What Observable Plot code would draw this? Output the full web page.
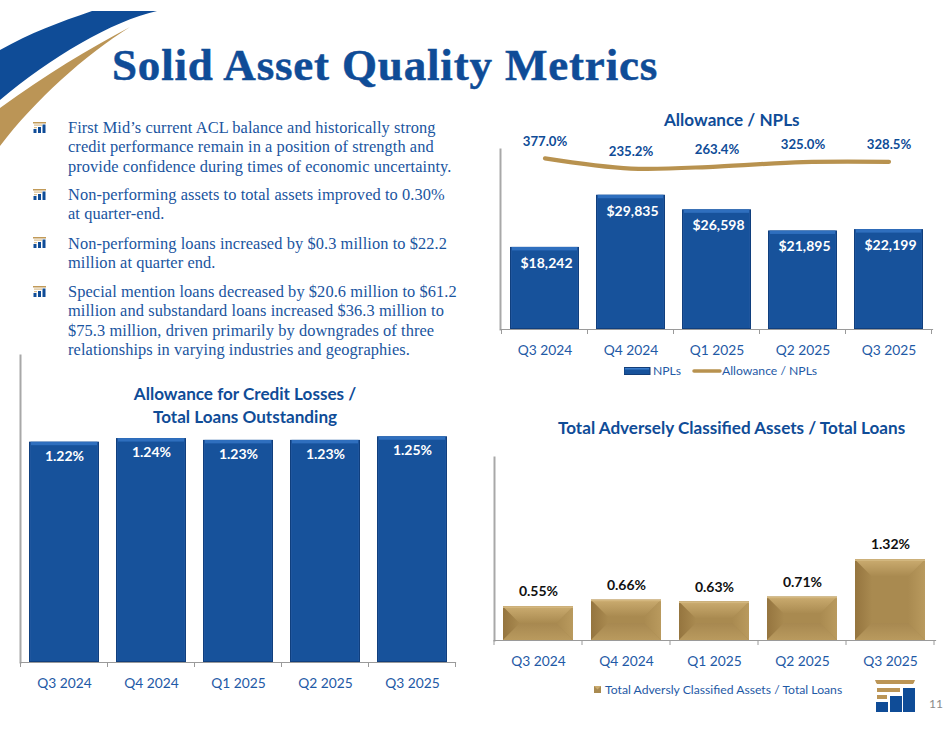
<!DOCTYPE html>
<html>
<head>
<meta charset="utf-8">
<script src="https://cdn.jsdelivr.net/npm/d3@7"></script>
<script src="https://cdn.jsdelivr.net/npm/@observablehq/plot@0.6"></script>
<style>
html,body{margin:0;padding:0;background:#fff;}
#page{position:relative;width:950px;height:734px;overflow:hidden;background:#fff;font-family:Lato,sans-serif;color:#17519c;}
#page>*{position:absolute;}
.ttl{font-weight:700;font-size:17.1px;text-align:center;color:#0f4c97;white-space:nowrap;line-height:23px;}
#title{left:112px;top:39px;font:700 45px "Liberation Serif",serif;color:#0f4c97;white-space:nowrap;letter-spacing:.83px;-webkit-text-stroke:.5px #0f4c97;}
.body{left:68px;font:16.4px/19.3px "Liberation Serif",serif;color:#1a55a0;white-space:nowrap;letter-spacing:.08px;}
.lg{font-size:12.2px;color:#1f5aa6;white-space:nowrap;line-height:14px;}
svg text{font-family:Lato,sans-serif;}
g[aria-label="bar-base"]{filter:drop-shadow(0 0 1.2px rgba(0,0,0,.35));}
</style>
</head>
<body>
<div id="page">
  <svg width="0" height="0" style="left:0;top:0">
    <defs>
      <linearGradient id="goldTop" x1="0" y1="0" x2="0" y2="1"><stop offset="0" stop-color="#cbac70"/><stop offset="1" stop-color="#a98a50"/></linearGradient>
      <linearGradient id="goldBot" x1="0" y1="0" x2="0" y2="1"><stop offset="0" stop-color="#a78850"/><stop offset="1" stop-color="#b99a5e"/></linearGradient>
      <linearGradient id="goldLeft" x1="0" y1="0" x2="1" y2="0"><stop offset="0" stop-color="#95753f"/><stop offset="1" stop-color="#a98a50"/></linearGradient>
      <linearGradient id="goldRight" x1="0" y1="0" x2="1" y2="0"><stop offset="0" stop-color="#a98a50"/><stop offset="1" stop-color="#b99a5e"/></linearGradient>
      <symbol id="bullet" viewBox="0 0 13 11">
        <rect x="0" y="0" width="13" height="1.5" fill="#c19a58"/>
        <rect x="1" y="2.5" width="8" height="1.2" fill="#d9bd8c"/>
        <rect x="1" y="5" width="3" height="1.2" fill="#d9bd8c"/>
        <rect x="0.5" y="7" width="3" height="4" fill="#0f4c97"/>
        <rect x="5" y="5" width="3" height="6" fill="#0f4c97"/>
        <rect x="9.5" y="2.5" width="3" height="8.5" fill="#0f4c97"/>
      </symbol>
    </defs>
  </svg>

  <svg width="170" height="160" style="left:0;top:0">
    <path d="M92 11 L157 11 C112 21 50 58 0 100 L0 50 C30 33 60 22 92 11Z" fill="#0f4c97"/>
    <path d="M130 27 C85 55 35 100 0 146 L0 108 C45 75 90 48 130 27Z" fill="#bb9556"/>
  </svg>

  <div id="title">Solid Asset Quality Metrics</div>

  <svg width="13" height="11" style="left:33px;top:122px"><use href="#bullet"/></svg>
  <div class="body" style="top:118px">First Mid’s current ACL balance and historically strong<br>credit performance remain in a position of strength and<br>provide confidence during times of economic uncertainty.</div>
  <svg width="13" height="11" style="left:33px;top:189px"><use href="#bullet"/></svg>
  <div class="body" style="top:185px">Non-performing assets to total assets improved to 0.30%<br>at quarter-end.</div>
  <svg width="13" height="11" style="left:33px;top:237px"><use href="#bullet"/></svg>
  <div class="body" style="top:234px">Non-performing loans increased by $0.3 million to $22.2<br>million at quarter end.</div>
  <svg width="13" height="11" style="left:33px;top:286px"><use href="#bullet"/></svg>
  <div class="body" style="top:282px">Special mention loans decreased by $20.6 million to $61.2<br>million and substandard loans increased $36.3 million to<br>$75.3 million, driven primarily by downgrades of three<br>relationships in varying industries and geographies.</div>

  <div class="ttl" style="left:664px;top:108px">Allowance / NPLs</div>
  <div class="ttl" style="left:558px;top:416px">Total Adversely Classified Assets / Total Loans</div>
  <div class="ttl" style="left:95px;width:300px;top:382px">Allowance for Credit Losses /<br>Total Loans Outstanding</div>

  <div id="chartA" style="left:480px;top:129px"></div>
  <div id="chartB" style="left:474px;top:440px"></div>
  <div id="chartC" style="left:0;top:340px"></div>

  <svg width="27" height="8" style="left:624px;top:367px"><rect width="26" height="7" y=".5" fill="#17529b" stroke="#123d78"/><rect x="1" y="1" width="24" height="1.5" fill="#3b7ccb"/></svg>
  <div class="lg" style="left:653px;top:364px">NPLs</div>
  <svg width="30" height="6" style="left:692px;top:368px"><line x1="2" x2="28" y1="3" y2="3" stroke="#b8924f" stroke-width="3.5" stroke-linecap="round"/></svg>
  <div class="lg" style="left:722px;top:364px">Allowance / NPLs</div>

  <svg width="8" height="8" style="left:594px;top:686px"><rect width="7" height="7" fill="#a98a50"/><path d="M0 0L7 0L3.500 3.500Z" fill="#cbac70"/></svg>
  <div class="lg" style="left:605px;top:683px">Total Adversly Classified Assets / Total Loans</div>

  <svg width="42" height="34" style="left:874px;top:679px">
    <path d="M1 1H41L40 3.500L39 5H3L2 3.500Z" fill="#bb9556"/>
    <rect x="3" y="9" width="23" height="4" fill="#bb9556"/>
    <rect x="3" y="16" width="10" height="4" fill="#bb9556"/>
    <rect x="2" y="23" width="12" height="10" fill="#0f4c97"/>
    <rect x="16" y="17" width="12" height="16" fill="#0f4c97"/>
    <rect x="29" y="9" width="12" height="24" fill="#0f4c97"/>
  </svg>
  <div style="left:929px;top:696px;font-size:12px;color:#8a8a8a;">11</div>
</div>

<script>
const quarters = ["Q3 2024", "Q4 2024", "Q1 2025", "Q2 2025", "Q3 2025"];
const npls = [18242, 29835, 26598, 21895, 22199];
const allowancePct = [377.0, 235.2, 263.4, 325.0, 328.5];
const aclPct = [1.22, 1.24, 1.23, 1.23, 1.25];
const classifiedPct = [0.55, 0.66, 0.63, 0.71, 1.32];

const AXIS = "#9a9a9a";
const TICKTEXT = "#1f5aa6";

const rows = quarters.map((q, i) => ({q, npl: npls[i], allow: allowancePct[i], acl: aclPct[i], cls: classifiedPct[i]}));
// NPL bars read on a 0–40,000 axis, the ratio line on a hidden –2,000%–500% axis
const allowToNpl = d3.scaleLinear([-2000, 500], [0, 40000]);

// Ticks on the category axis fall between the bands
function bandTicks(index, {x}, values, {height, marginBottom}) {
  const g = d3.create("svg:g");
  const step = x.step ? x.step() : x.bandwidth() / 0.8;
  const edges = quarters.map(q => x(q) - (step - x.bandwidth()) / 2);
  edges.push(edges[4] + step);
  const y0 = height - marginBottom;
  for (const e of edges) {
    g.append("line").attr("x1", e).attr("x2", e).attr("y1", y0).attr("y2", y0 + 5)
      .attr("stroke", AXIS).attr("stroke-width", 1);
  }
  return g.node();
}

function frameMarks() {
  return [
    Plot.frame({anchor: "left", stroke: "#a8a8a8", strokeWidth: 2}),
    Plot.frame({anchor: "bottom", stroke: AXIS, strokeWidth: 1.2}),
    bandTicks,
    Plot.axisX({tickSize: 0, tickPadding: 15.5, fontSize: 13.8, color: TICKTEXT, label: null})
  ];
}

function blueBars(field) {
  return [
    Plot.barY(rows, {x: "q", y: field, fill: "#103f7e", ariaLabel: "bar-base"}),
    Plot.barY(rows, {x: "q", y: field, fill: "#2f6fbe", insetLeft: 1.5, insetRight: 1.5, insetBottom: 1}),
    Plot.barY(rows, {x: "q", y: field, fill: "#17529b", insetLeft: 2, insetRight: 2, insetTop: 3.5, insetBottom: 1})
  ];
}

// Pyramid bevel on the gold bars, from the plot's own scales
function goldBevel(index, {x, y}) {
  const g = d3.create("svg:g");
  const w = x.bandwidth();
  for (const d of rows) {
    const l = x(d.q), r = l + w, t = y(d.cls), b = y(0);
    const k = Math.min(17, (b - t) / 2);
    const face = (pts, fill) => g.append("polygon").attr("points", pts.join(" ")).attr("fill", fill);
    face([[l, t], [r, t], [r, b], [l, b]], "#a98a50");
    face([[l, t], [l + k, t + k], [l + k, b - k], [l, b]], "url(#goldLeft)");
    face([[r, t], [r - k, t + k], [r - k, b - k], [r, b]], "url(#goldRight)");
    face([[l, b], [l + k, b - k], [r - k, b - k], [r, b]], "url(#goldBot)");
    face([[l, t], [r, t], [r - k, t + k], [l + k, t + k]], "url(#goldTop)");
    g.append("rect").attr("x", l).attr("y", t).attr("width", w).attr("height", 1.5).attr("fill", "#d3b77f");
  }
  return g.node();
}

const chartA = Plot.plot({
  width: 470, height: 240,
  marginLeft: 20, marginRight: 18, marginTop: 20, marginBottom: 40,
  style: {background: "transparent", overflow: "visible"},
  x: {domain: quarters, paddingInner: 0.2, paddingOuter: 0.1, axis: null, label: null},
  y: {domain: [0, 40000], axis: null, label: null},
  marks: [
    ...blueBars("npl"),
    ...frameMarks(),
    Plot.text(rows, {x: "q", y: "npl", text: d => d3.format("$,")(d.npl), dy: 16, dx: 1.5, fill: "#fff", fontSize: 14, fontWeight: 700}),
    Plot.line(rows, {x: "q", y: d => allowToNpl(d.allow), stroke: "#b8924f", strokeWidth: 4.2, curve: "catmull-rom", strokeLinecap: "round"}),
    Plot.text(rows, {x: "q", y: d => allowToNpl(d.allow), text: d => d3.format(".1f")(d.allow) + "%", dy: -17, fill: "#0f4c97", fontSize: 13.2, fontWeight: 700})
  ]
});
document.getElementById("chartA").append(chartA);

const chartB = Plot.plot({
  width: 476, height: 240,
  marginLeft: 20, marginRight: 15, marginTop: 17, marginBottom: 40,
  style: {background: "transparent", overflow: "visible"},
  x: {domain: quarters, paddingInner: 0.2, paddingOuter: 0.1, axis: null, label: null},
  y: {domain: [0, 3], axis: null, label: null},
  marks: [
    Plot.barY(rows, {x: "q", y: "cls", fill: "#a98a50", ariaLabel: "bar-base"}),
    goldBevel,
    ...frameMarks(),
    Plot.text(rows, {x: "q", y: "cls", text: d => d3.format(".2f")(d.cls) + "%", dy: -15, fill: "#111", fontSize: 14, fontWeight: 700})
  ]
});
document.getElementById("chartB").append(chartB);

const chartC = Plot.plot({
  width: 475, height: 362,
  marginLeft: 20, marginRight: 20, marginTop: 15, marginBottom: 40,
  style: {background: "transparent", overflow: "visible"},
  x: {domain: quarters, paddingInner: 0.2, paddingOuter: 0.1, axis: null, label: null},
  y: {domain: [0, 1.7], axis: null, label: null},
  marks: [
    ...blueBars("acl"),
    ...frameMarks(),
    Plot.text(rows, {x: "q", y: "acl", text: d => d3.format(".2f")(d.acl) + "%", dy: 14, fill: "#fff", fontSize: 14, fontWeight: 700})
  ]
});
document.getElementById("chartC").append(chartC);
</script>
</body>
</html>
